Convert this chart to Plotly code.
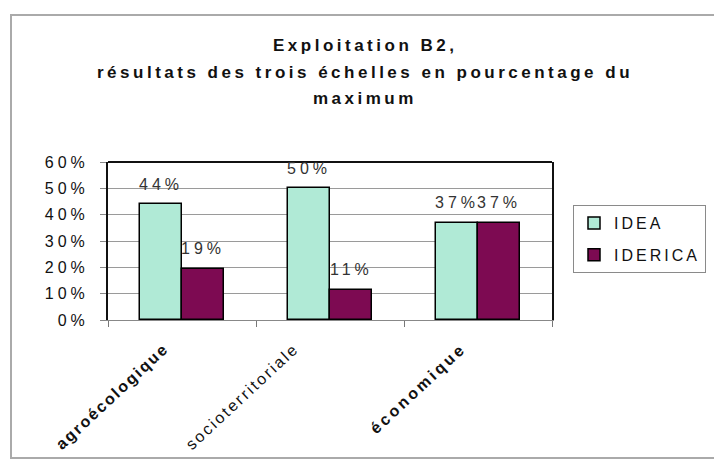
import plotly.graph_objects as go

# ---- data ----
categories = ["agroécologique", "socioterritoriale", "économique"]
series_names = ["IDEA", "IDERICA"]
idea_values = [0.44, 0.50, 0.37]
iderica_values = [0.194, 0.114, 0.37]
y_tick_values = [0.0, 0.1, 0.2, 0.3, 0.4, 0.5, 0.6]
y_tick_labels = ["0%", "10%", "20%", "30%", "40%", "50%", "60%"]
title_lines = ["Exploitation B2,",
               "résultats des trois échelles en pourcentage du",
               "maximum"]

# ---- styling ----
FONT = "Liberation Sans, Arial, sans-serif"
COLORS = ["#b0ead6", "#7d0a52"]
OFF = 8  # page body margin
W, H = 722 - 2 * OFF, 468 - 2 * OFF
PLOT_L, PLOT_R, PLOT_T, PLOT_B = 108, 552, 162, 320  # page pixels
ML, MR, MT, MB = PLOT_L - OFF, W - (PLOT_R - OFF), PLOT_T - OFF, H - (PLOT_B - OFF)
PW, PH = W - ML - MR, H - MT - MB
BAR_W = 0.284
LABEL_SHIFT = [-0.12, -0.24, -0.11]


def px_x(x):
    return (x - OFF - ML) / PW


def px_y(y):
    return 1 - (y - OFF - MT) / PH


def spaced(txt, ls):
    return f"<span style='letter-spacing:{ls}px'>{txt}</span>"


x_idx = list(range(len(categories)))
fig = go.Figure()
for k, (name, vals) in enumerate(zip(series_names, [idea_values, iderica_values])):
    off = (k - 0.5) * BAR_W
    fig.add_trace(go.Bar(
        x=[i + off for i in x_idx], y=vals, width=BAR_W, name=spaced(name, 3),
        legendgroup=name,
        marker=dict(color=COLORS[k], line=dict(color="#000000", width=1.5)),
        hoverinfo="skip",
    ))
    for i, v in zip(x_idx, vals):
        fig.add_annotation(x=i + off, y=v, xref="x", yref="y",
                           text=spaced(f"{v:.0%}", 4), showarrow=False,
                           yanchor="middle", yshift=20,
                           font=dict(family=FONT, size=16, color="#333333"))

x_tick_text = [
    "<b>" + spaced(categories[0], 2) + "</b>",
    spaced(categories[1], 2.3),
    "<b>" + spaced(categories[2], 3) + "</b>",
]

fig.update_layout(
    width=W, height=H,
    margin=dict(l=ML, r=MR, t=MT, b=MB, autoexpand=False),
    paper_bgcolor="white", plot_bgcolor="white",
    showlegend=True,
    bargap=0,
    legend=dict(x=px_x(573), y=px_y(205), xanchor="left", yanchor="top",
                bordercolor="#8a8a8a", borderwidth=1, bgcolor="white",
                font=dict(family=FONT, size=16, color="#111111"),
                tracegroupgap=8, itemclick=False, entrywidth=100),
    xaxis=dict(range=[-0.5, 2.5],
               tickvals=[i + s for i, s in zip(x_idx, LABEL_SHIFT)],
               ticktext=x_tick_text,
               tickangle=-43, ticks="", showgrid=False, zeroline=False,
               showline=True, linecolor="#888888", linewidth=1,
               ticklabelstandoff=12,
               tickfont=dict(family=FONT, size=16, color="#111111"),
               minor=dict(tickvals=[-0.5, 0.5, 1.5, 2.5], ticks="outside",
                          ticklen=6, tickcolor="#777777", showgrid=False),
               fixedrange=True),
    yaxis=dict(range=[0, 0.6], tickvals=y_tick_values,
               ticktext=[spaced(t, 4) for t in y_tick_labels],
               showgrid=True, gridcolor="#9a9a9a", gridwidth=1,
               zeroline=False, showline=True, linecolor="#111111", linewidth=2,
               mirror=True, ticks="outside", ticklen=6, tickcolor="#888888",
               ticklabelstandoff=8,
               tickfont=dict(family=FONT, size=16, color="#111111"),
               fixedrange=True),
)

# top border of plot area (dark) and outer chart frame (right side off-page)
fig.add_shape(type="line", xref="paper", yref="paper", x0=0, x1=1, y0=1, y1=1,
              line=dict(color="#111111", width=2))
fx0, fx1, fy0, fy1 = px_x(11), px_x(760), px_y(458), px_y(15)
fig.add_shape(type="path", xref="paper", yref="paper",
              path=f"M {fx1},{fy1} L {fx0},{fy1} L {fx0},{fy0} L {fx1},{fy0}",
              line=dict(color="#aaaaaa", width=2), layer="below")

# title
for line, yy in zip(title_lines, [45, 72, 98]):
    fig.add_annotation(x=px_x(365), y=px_y(yy), xref="paper", yref="paper",
                       text="<b>" + spaced(line, 3.5) + "</b>", showarrow=False,
                       xanchor="center", yanchor="middle",
                       font=dict(family=FONT, size=17, color="#111111"))

fig.write_html("out.html")
